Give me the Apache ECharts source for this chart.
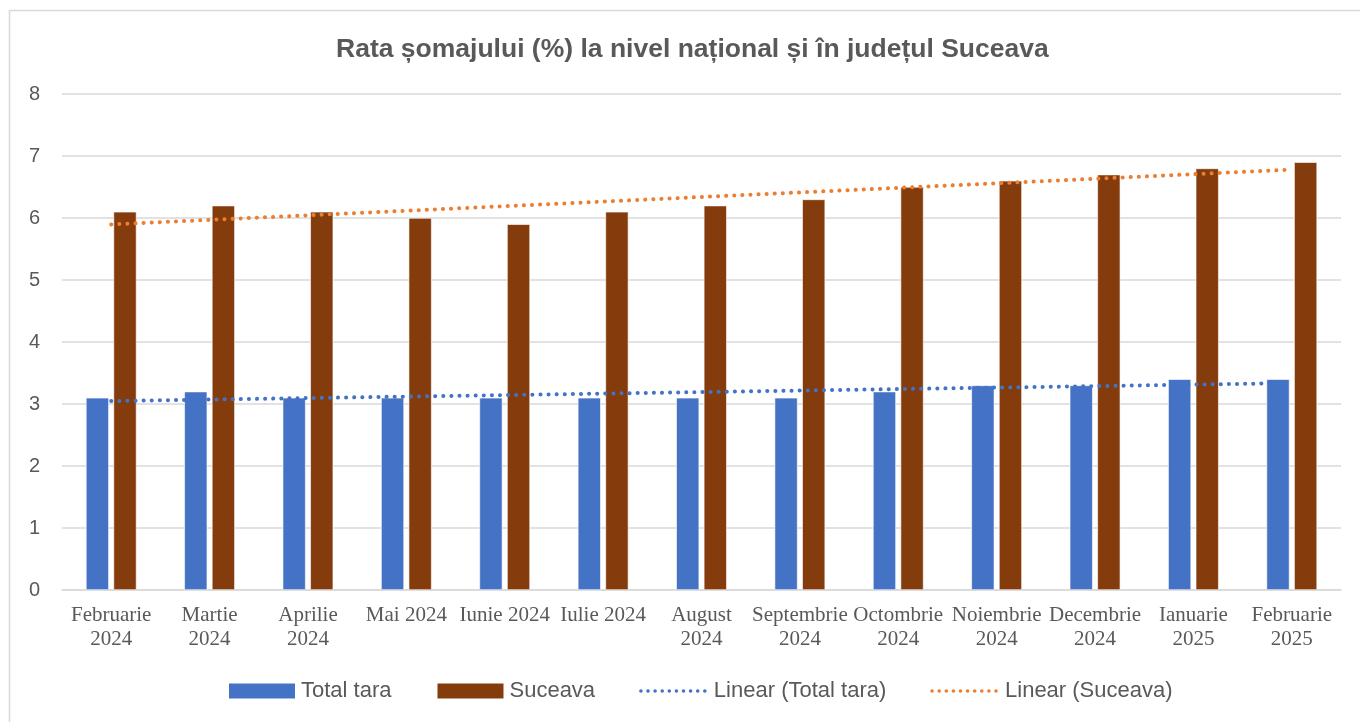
<!DOCTYPE html>
<html>
<head>
<meta charset="utf-8">
<script src="https://cdn.jsdelivr.net/npm/echarts@6/dist/echarts.min.js"></script>
<style>
  html, body { margin: 0; padding: 0; background: #fff; }
  #chart { width: 1360px; height: 722px; }
</style>
</head>
<body>
<div id="chart"></div>
<script>
const months = [
  'Februarie\n2024', 'Martie\n2024', 'Aprilie\n2024', 'Mai 2024', 'Iunie 2024',
  'Iulie 2024', 'August\n2024', 'Septembrie\n2024', 'Octombrie\n2024',
  'Noiembrie\n2024', 'Decembrie\n2024', 'Ianuarie\n2025', 'Februarie\n2025'
]
const totalTara = [3.1, 3.2, 3.1, 3.1, 3.1, 3.1, 3.1, 3.1, 3.2, 3.3, 3.3, 3.4, 3.4]
const suceava = [6.1, 6.2, 6.1, 6.0, 5.9, 6.1, 6.2, 6.3, 6.5, 6.6, 6.7, 6.8, 6.9]

// linear trend (least squares), like the spreadsheet trendline
const linearTrend = (ys) => {
  const n = ys.length
  const mx = (n - 1) / 2
  const my = ys.reduce((a, b) => a + b, 0) / n
  let sxy = 0, sxx = 0
  ys.forEach((y, i) => { sxy += (i - mx) * (y - my); sxx += (i - mx) * (i - mx) })
  const slope = sxy / sxx
  return ys.map((_, i) => +(my + slope * (i - mx)).toFixed(4))
}

const grey = '#595959'
const chart = echarts.init(document.getElementById('chart'), null, { renderer: 'canvas' })

const dotted = (color) => ({ color: color, width: 4, type: [0.1, 8], cap: 'round' })
const legendDots = (color) => ({ color: color, width: 3.5, type: [0.1, 7], cap: 'round' })

chart.setOption({
  animation: false,
  backgroundColor: '#fff',
  graphic: [{
    type: 'rect',
    shape: { x: 9.5, y: 10.5, width: 1400, height: 800 },
    style: { fill: 'none', stroke: '#d9d9d9', lineWidth: 1.5 },
    silent: true
  }],
  title: {
    text: 'Rata șomajului (%) la nivel național și în județul Suceava',
    left: 331,
    top: 31,
    textStyle: { fontFamily: 'Liberation Sans', fontSize: 26.5, fontWeight: 'bold', color: grey }
  },
  grid: { left: 62, right: 19, top: 94, bottom: 132, containLabel: false },
  legend: {
    bottom: 15,
    left: 222,
    itemWidth: 68,
    itemHeight: 17,
    itemGap: 44,
    textStyle: { fontFamily: 'Liberation Sans', fontSize: 22, color: grey },
    data: [
      { name: 'Total tara', icon: 'rect' },
      { name: 'Suceava', icon: 'rect' },
      { name: 'Linear (Total tara)', itemStyle: { opacity: 0 }, lineStyle: legendDots('#4472C4') },
      { name: 'Linear (Suceava)', itemStyle: { opacity: 0 }, lineStyle: legendDots('#ED7D31') }
    ]
  },
  xAxis: {
    type: 'category',
    data: months,
    axisTick: { show: false },
    axisLine: { lineStyle: { color: '#d9d9d9', width: 1.5 } },
    axisLabel: {
      interval: 0,
      margin: 13,
      fontFamily: 'Liberation Serif',
      fontSize: 21,
      lineHeight: 24,
      color: grey
    }
  },
  yAxis: {
    type: 'value',
    min: 0,
    max: 8,
    interval: 1,
    axisLine: { show: false },
    axisTick: { show: false },
    splitLine: { lineStyle: { color: '#d9d9d9', width: 1.5 } },
    axisLabel: { margin: 22, fontFamily: 'Liberation Sans', fontSize: 20, color: grey }
  },
  series: [
    {
      name: 'Total tara',
      type: 'bar',
      data: totalTara,
      barWidth: 23,
      barGap: '20%',
      itemStyle: { color: '#4472C4', borderColor: '#fff', borderWidth: 0.6 }
    },
    {
      name: 'Suceava',
      type: 'bar',
      data: suceava,
      barWidth: 23,
      barGap: '20%',
      itemStyle: { color: '#843C0C', borderColor: '#fff', borderWidth: 0.6 }
    },
    {
      name: 'Linear (Total tara)',
      type: 'line',
      data: linearTrend(totalTara),
      symbol: 'none',
      itemStyle: { color: '#4472C4' },
      lineStyle: dotted('#4472C4'),
      z: 5
    },
    {
      name: 'Linear (Suceava)',
      type: 'line',
      data: linearTrend(suceava),
      symbol: 'none',
      itemStyle: { color: '#ED7D31' },
      lineStyle: dotted('#ED7D31'),
      z: 5
    }
  ]
})
</script>
</body>
</html>
